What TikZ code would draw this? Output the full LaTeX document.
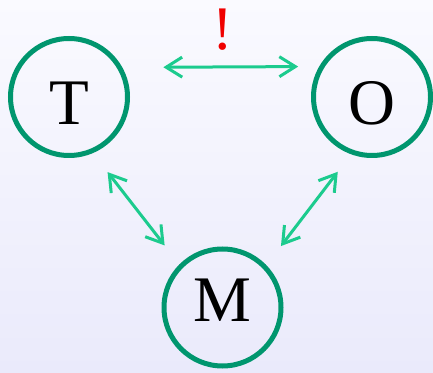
\documentclass[tikz,border=0pt]{standalone}
\usepackage{fontspec}
\setmainfont{Liberation Serif}
\usetikzlibrary{arrows.meta}
\definecolor{bgTop}{HTML}{FAFAFF}
\definecolor{bgBottom}{HTML}{EAEAFB}
\definecolor{ringLine}{HTML}{00966E}
\definecolor{linkLine}{HTML}{1CCB8E}
\definecolor{bangRed}{HTML}{F00000}

\begin{document}
\begin{tikzpicture}[
  x=1pt, y=1pt,
  letter/.style ={circle, draw=ringLine, line width=5pt, minimum size=117pt,
                  inner sep=0pt, text height=55pt, text depth=0pt,
                  font=\fontsize{65}{65}\selectfont},
  link/.style   ={{Straight Barb[length=16pt,width=20pt]}-{Straight Barb[length=16pt,width=20pt]},
                  draw=linkLine, line width=3pt},
]

% ----- Background -----
\shade[top color=bgTop, bottom color=bgBottom] (0,0) rectangle (433,372);
\useasboundingbox (0,0) rectangle (433,372);

% ----- Three letters -----
\node[letter] (T) at (69,275) {T};
\node[letter] (O) at (372,275) {O};
\node[letter, text height=43pt, text depth=16pt] (M) at (222.5,64.5) {M};

% ----- Links between them -----
\draw[link, shorten <=41pt, shorten >=21pt] (T.29.5) -- (O.150.5);
\draw[link, shorten <=24pt, shorten >=24pt] (T.-67.1) -- (M.135.5);
\draw[link, shorten <=22pt, shorten >=24pt] (O.-110.5) -- (M.44.5);

% ----- Warning mark -----
\node[text=bangRed, anchor=base, inner sep=0pt, text height=44pt, text depth=0pt,
      font=\fontsize{62}{62}\selectfont]
  (bang) at (223,322) {!};

\end{tikzpicture}
\end{document}
